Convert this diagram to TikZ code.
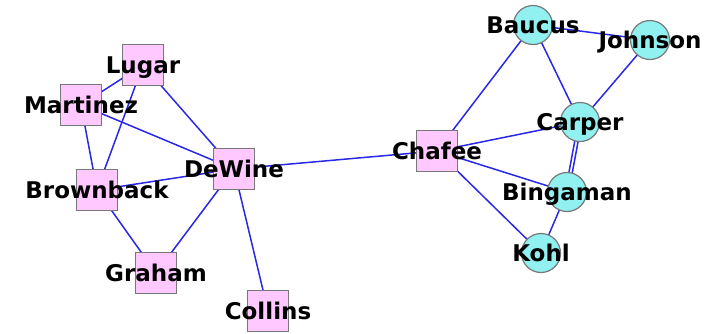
\documentclass[tikz,border=0pt]{standalone}
\usepackage{fontspec}
\setmainfont{DejaVu Sans}
\usetikzlibrary{backgrounds}
\definecolor{boxpink}{RGB}{255,200,255}
\definecolor{cyanfill}{RGB}{145,240,240}
\definecolor{edgeblue}{RGB}{40,40,230}
\definecolor{bordergray}{RGB}{120,120,120}
\tikzset{
  sq/.style={rectangle, minimum size=41pt, inner sep=0pt, fill=boxpink, draw=bordergray, line width=1.2pt},
  ci/.style={circle, minimum size=39pt, inner sep=0pt, fill=cyanfill, draw=bordergray, line width=1.2pt},
  lab/.style={font=\fontsize{23}{23}\bfseries\selectfont, inner sep=0pt, text height=16.5pt, text depth=0pt},
  edge/.style={draw=edgeblue, line width=1.5pt}
}
\begin{document}
\begin{tikzpicture}[x=1pt,y=-1pt]
\useasboundingbox (0,0) rectangle (726,333);
\node[sq, label={[lab]center:Lugar}] (lugar) at (143,65) {};
\node[sq, label={[lab]center:Martinez}] (martinez) at (81,105) {};
\node[sq, label={[lab]center:DeWine}] (dewine) at (234,169) {};
\node[sq, label={[lab]center:Brownback}] (brownback) at (97,190) {};
\node[sq, label={[lab]center:Graham}] (graham) at (156,273) {};
\node[sq, label={[lab]center:Collins}] (collins) at (268,311) {};
\node[sq, label={[lab]center:Chafee}] (chafee) at (437,151) {};
\node[ci, label={[lab]center:Baucus}] (baucus) at (533,25) {};
\node[ci, label={[lab]center:Johnson}] (johnson) at (650,40) {};
\node[ci, label={[lab]center:Carper}] (carper) at (580,122) {};
\node[ci, label={[lab]center:Bingaman}] (bingaman) at (567,192) {};
\node[ci, label={[lab]center:Kohl}] (kohl) at (541,253) {};
\begin{pgfonlayer}{background}
\path[edge] (lugar.center) -- (martinez.center);
\path[edge] (lugar.center) -- (brownback.center);
\path[edge] (lugar.center) -- (dewine.center);
\path[edge] (martinez.center) -- (dewine.center);
\path[edge] (martinez.center) -- (brownback.center);
\path[edge] (brownback.center) -- (dewine.center);
\path[edge] (brownback.center) -- (graham.center);
\path[edge] (dewine.center) -- (graham.center);
\path[edge] (dewine.center) -- (collins.center);
\path[edge] (dewine.center) -- (chafee.center);
\path[edge] (chafee.center) -- (baucus.center);
\path[edge] (chafee.center) -- (carper.center);
\path[edge] (chafee.center) -- (bingaman.center);
\path[edge] (chafee.center) -- (kohl.center);
\path[edge] (baucus.center) -- (johnson.center);
\path[edge] (baucus.center) -- (carper.center);
\path[edge] (johnson.center) -- (carper.center);
\path[edge, transform canvas={xshift=-1.7pt}] (carper.center) -- (bingaman.center);
\path[edge, transform canvas={xshift=1.7pt}] (carper.center) -- (bingaman.center);
\path[edge] (bingaman.center) -- (kohl.center);
\end{pgfonlayer}
\end{tikzpicture}
\end{document}
